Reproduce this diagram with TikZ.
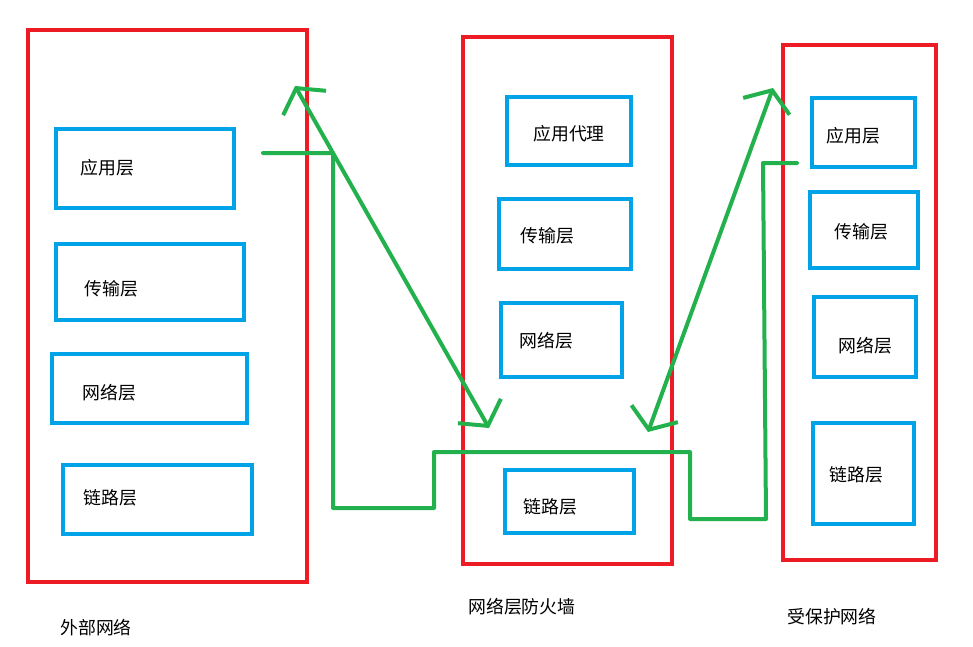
\documentclass[tikz,border=0pt]{standalone}
\usepackage{fontspec}
\newfontfamily\cjk{Noto Sans CJK SC}
\usepackage{tikz}
\usetikzlibrary{positioning, arrows.meta, fit}
\definecolor{wall}{HTML}{ED1C24}
\definecolor{layer}{HTML}{00A2E8}
\definecolor{flow}{HTML}{22B14C}

\begin{document}
\begin{tikzpicture}[
  x=0.75pt, y=-0.75pt,
  font=\cjk\fontsize{13.4}{15}\selectfont,
  net/.style={draw=wall, line width=3pt, inner sep=0pt},
  L/.style={draw=layer, line width=3pt, inner sep=0pt},
  T/.style={anchor=west, inner sep=0pt},
  pkt/.style={draw=flow, line width=3pt, line cap=round, line join=round},
  hop/.style={pkt, {Straight Barb[length=4.5mm, width=13mm]}-{Straight Barb[length=4.5mm, width=13mm]}}
]
\useasboundingbox (0,0) rectangle (973,646);
% Networks (red)
\node[net, fit={(28,30) (307,582)}]  (ext) {};
\node[net, fit={(463,37) (672,564)}] (fw)  {};
\node[net, fit={(783,45) (936,560)}] (prot) {};
% External network layers
\node[L, fit={(56,129) (234,208)}] (extApp) {};
\node[L, fit={(56,244) (244,320)}] (extTrn) {};
\node[L, fit={(52,354) (247,423)}] (extNet) {};
\node[L, fit={(63,465) (252,534)}] (extLnk) {};
\node[T] at (80,168) {应用层};
\node[T] at (84,289) {传输层};
\node[T] at (82,393) {网络层};
\node[T] at (83,498) {链路层};
% Firewall layers
\node[L, fit={(507,97) (631,165)}]  (fwApp) {};
\node[L, fit={(499,199) (631,269)}] (fwTrn) {};
\node[L, fit={(501,303) (622,377)}] (fwNet) {};
\node[L, fit={(505,470) (634,533)}] (fwLnk) {};
\node[T] at (533,134) {应用代理};
\node[T] at (520,236) {传输层};
\node[T] at (519,341) {网络层};
\node[T] at (523,507) {链路层};
% Protected network layers
\node[L, fit={(812,98) (915,167)}]  (prApp) {};
\node[L, fit={(810,192) (918,268)}] (prTrn) {};
\node[L, fit={(814,297) (916,377)}] (prNet) {};
\node[L, fit={(813,423) (914,524)}] (prLnk) {};
\node[T] at (826,136) {应用层};
\node[T] at (834,232) {传输层};
\node[T] at (838,346) {网络层};
\node[T] at (829,475) {链路层};
% Captions
\node[T] at (60,628) {外部网络};
\node[T] at (468,607) {网络层防火墙};
\node[T] at (787,617) {受保护网络};
% Packet path (green)
\draw[pkt] (263,153) -- (333,153) -- (333,508) -- (434,508) -- (434,452)
  -- (690,452) -- (690,519) -- (766,519) -- (763,163) -- (797,163);
\draw[hop] (295,86) -- (489,428);
\draw[hop] (648,432) -- (773,88);
\end{tikzpicture}
\end{document}
